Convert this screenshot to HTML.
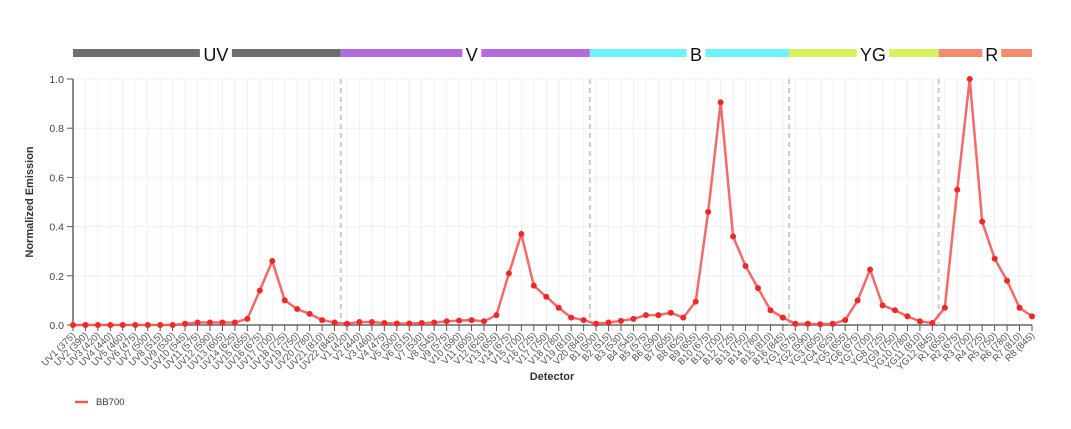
<!DOCTYPE html>
<html><head><meta charset="utf-8">
<style>
body{margin:0;background:#fff;width:1071px;height:424px;overflow:hidden;font-family:"Liberation Sans",sans-serif}
svg text{font-family:"Liberation Sans",sans-serif}
</style></head>
<body>
<svg id="chart" width="1071" height="424" xmlns="http://www.w3.org/2000/svg"></svg>
<script>
const detectors = ["UV1 (375)","UV2 (390)","UV3 (420)","UV4 (440)","UV5 (460)","UV6 (475)","UV7 (500)","UV8 (515)","UV9 (530)","UV10 (545)","UV11 (575)","UV12 (590)","UV13 (605)","UV14 (625)","UV15 (655)","UV16 (675)","UV17 (700)","UV18 (725)","UV19 (750)","UV20 (780)","UV21 (810)","UV22 (845)",
"V1 (420)","V2 (440)","V3 (460)","V4 (475)","V5 (500)","V6 (515)","V7 (530)","V8 (545)","V9 (575)","V10 (590)","V11 (605)","V12 (625)","V13 (655)","V14 (675)","V15 (700)","V16 (725)","V17 (750)","V18 (780)","V19 (810)","V20 (845)",
"B1 (500)","B2 (515)","B3 (530)","B4 (545)","B5 (575)","B6 (590)","B7 (605)","B8 (625)","B9 (655)","B10 (675)","B11 (700)","B12 (725)","B13 (750)","B14 (780)","B15 (810)","B16 (845)",
"YG1 (575)","YG2 (590)","YG3 (605)","YG4 (625)","YG5 (655)","YG6 (675)","YG7 (700)","YG8 (725)","YG9 (750)","YG10 (780)","YG11 (810)","YG12 (845)",
"R1 (655)","R2 (675)","R3 (700)","R4 (725)","R5 (750)","R6 (780)","R7 (810)","R8 (845)"];
const emission = [0,0,0,0,0,0,0,0,0,0.005,0.01,0.01,0.01,0.01,0.025,0.14,0.26,0.1,0.065,0.045,0.02,0.01,
0.005,0.012,0.012,0.008,0.006,0.006,0.008,0.01,0.015,0.018,0.02,0.015,0.04,0.21,0.37,0.16,0.115,0.07,0.03,0.02,
0.005,0.01,0.017,0.025,0.04,0.04,0.05,0.03,0.095,0.46,0.905,0.36,0.24,0.15,0.06,0.03,
0.005,0.005,0.003,0.005,0.02,0.1,0.225,0.08,0.06,0.035,0.015,0.008,
0.07,0.55,1.0,0.42,0.27,0.18,0.07,0.035];
const lasers = ["UV","V","B","YG","R"];
const laserCounts = [22,20,16,12,8];
const laserColors = ["#6e6e6e","#b56be0","#6ef3f7","#d6f25e","#f48a6e"];
const yTicks = [0,0.2,0.4,0.6,0.8,1.0];

const NS="http://www.w3.org/2000/svg";
const svg=document.getElementById('chart');
const X0=73,X1=1032,Y0=325,Y1=79;
const step=(X1-X0)/(detectors.length-1);
const x=i=>X0+i*step;
const y=v=>Y0-(v)*(Y0-Y1);
function mk(tag,attrs,parent){const e=document.createElementNS(NS,tag);for(const k in attrs)e.setAttribute(k,attrs[k]);(parent||svg).appendChild(e);return e;}

detectors.forEach((d,i)=>{
  const g=mk('line',{x1:x(i),x2:x(i),y1:Y1,y2:Y0,stroke:'#f0f0f0','stroke-width':1});
  
  
});
yTicks.forEach(t=>{
  const g=mk('line',{x1:X0,x2:X1,y1:y(t),y2:y(t),stroke:'#f0f0f0'});
  
  
  mk('line',{x1:X0-6,x2:X0,y1:y(t),y2:y(t),stroke:'#555'});
  const tx=mk('text',{x:X0-9,y:y(t)+4,'text-anchor':'end','font-size':10.5,fill:'#444'});
  tx.textContent=t.toFixed(1);
  
  
});
mk('line',{x1:X0,x2:X0,y1:Y1,y2:Y0,stroke:'#666','stroke-width':1.5});
mk('line',{x1:X0,x2:X1,y1:Y0,y2:Y0,stroke:'#666','stroke-width':1.5});
detectors.forEach((d,i)=>{
  mk('line',{x1:x(i),x2:x(i),y1:Y0,y2:Y0+6,stroke:'#555'});
  const tx=mk('text',{x:0,y:0,'text-anchor':'end','font-size':9.5,fill:'#555',transform:`translate(${x(i)+3},${Y0+11}) rotate(-45)`});
  tx.textContent=d;
  
  
});
let start=0;
lasers.forEach((l,k)=>{
  const n=laserCounts[k];
  const a=k===0?X0:x(start)-step/2;
  const b=k===lasers.length-1?X1:x(start+n-1)+step/2;
  const mid=(a+b)/2+4+2.5*l.length;
  const lbl=mk('text',{x:mid,y:61,'text-anchor':'middle','font-size':18,fill:'#111'});
  lbl.textContent=l;
  
  
  const w=l.length*13+6;
  const r1=mk('rect',{x:a,y:49,width:Math.max(0,mid-w/2-a),height:8,fill:laserColors[k]});
  
  
  const r2=mk('rect',{x:mid+w/2,y:49,width:Math.max(0,b-mid-w/2),height:8,fill:laserColors[k]});
  
  
  if(k>0){
    const s=mk('line',{x1:a,x2:a,y1:Y1,y2:Y0,stroke:'#ccc','stroke-width':2,'stroke-dasharray':'5,4'});
    
    
  }
  start+=n;
});
const p=mk('polyline',{points:emission.map((v,i)=>x(i)+','+y(v)).join(' '),fill:'none',stroke:'#f25a5a','stroke-width':2.5,'stroke-opacity':0.9});


emission.forEach((v,i)=>{
  const c=mk('circle',{cx:x(i),cy:y(v),r:3,fill:'#f02828'});
  
  
});
const yt=mk('text',{x:0,y:0,'text-anchor':'middle','font-size':11,'font-weight':'bold',fill:'#333',transform:`translate(33,${(Y0+Y1)/2}) rotate(-90)`});
yt.textContent='Normalized Emission';


const xt=mk('text',{x:552,y:380,'text-anchor':'middle','font-size':11,'font-weight':'bold',fill:'#333'});
xt.textContent='Detector';


const lg=mk('line',{x1:75,x2:88,y1:402,y2:402,stroke:'#f25a5a','stroke-width':2.5});


const lt=mk('text',{x:96,y:405,'font-size':9.5,fill:'#333'});
lt.textContent='BB700';


</script>
</body></html>
